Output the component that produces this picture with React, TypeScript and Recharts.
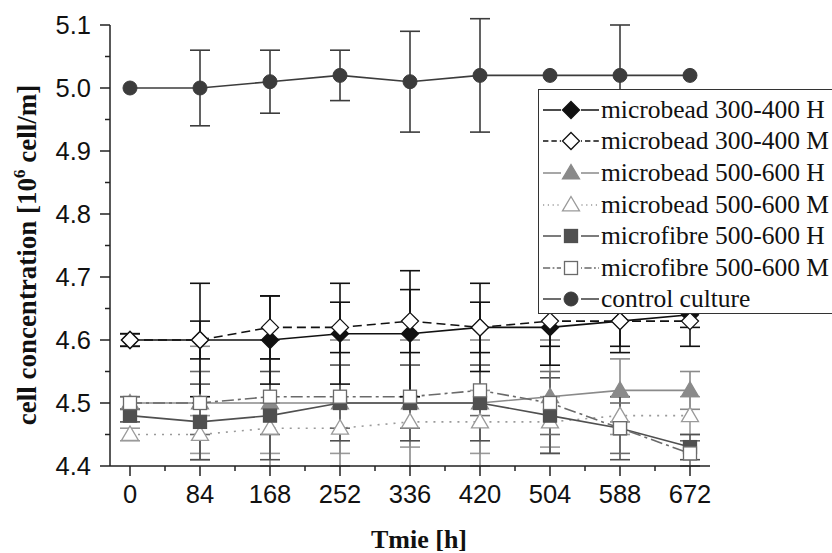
import React from 'react';
import { LineChart, Line, XAxis, YAxis, ErrorBar, Legend, Label } from 'recharts';

// time points [h]
const hours = [0, 84, 168, 252, 336, 420, 504, 588, 672];

// cell concentration [10^6 cell/ml] and error bars
const bead34H = [4.60, 4.60, 4.60, 4.61, 4.61, 4.62, 4.62, 4.63, 4.64];
const bead34HErr = [0.01, 0.03, 0.07, 0.08, 0.1, 0.07, 0.06, 0.05, 0.02];
const bead34M = [4.60, 4.60, 4.62, 4.62, 4.63, 4.62, 4.63, 4.63, 4.63];
const bead34MErr = [0.01, 0.09, 0.05, 0.04, 0.05, 0.04, 0.04, 0.04, 0.04];
const bead56H = [4.50, 4.50, 4.50, 4.50, 4.50, 4.50, 4.51, 4.52, 4.52];
const bead56HErr = [0.01, 0.09, 0.1, 0.1, 0.1, 0.1, 0.09, 0.05, 0.03];
const bead56M = [4.45, 4.45, 4.46, 4.46, 4.47, 4.47, 4.47, 4.48, 4.48];
const bead56MErr = [0.01, 0.03, 0.04, 0.04, 0.04, 0.05, 0.04, 0.03, 0.03];
const fibreH = [4.48, 4.47, 4.48, 4.50, 4.50, 4.50, 4.48, 4.46, 4.43];
const fibreHErr = [0.01, 0.06, 0.07, 0.06, 0.06, 0.06, 0.06, 0.05, 0.02];
const fibreM = [4.50, 4.50, 4.51, 4.51, 4.51, 4.52, 4.50, 4.46, 4.42];
const fibreMErr = [0.01, 0.05, 0.06, 0.05, 0.05, 0.04, 0.05, 0.04, 0.02];
const control = [5.00, 5.00, 5.01, 5.02, 5.01, 5.02, 5.02, 5.02, 5.02];
const controlErr = [0, 0.06, 0.05, 0.04, 0.08, 0.09, 0, 0.08, 0];

const xTicks = [0, 42, 84, 126, 168, 210, 252, 294, 336, 378, 420, 462, 504, 546, 588, 630, 672];
const xLabels = [0, 84, 168, 252, 336, 420, 504, 588, 672];
const yTicks = [4.4, 4.45, 4.5, 4.55, 4.6, 4.65, 4.7, 4.75, 4.8, 4.85, 4.9, 4.95, 5.0, 5.05, 5.1];

const data = hours.map((t, i) => ({
  t,
  b34H: bead34H[i], b34HE: bead34HErr[i],
  b34M: bead34M[i], b34ME: bead34MErr[i],
  b56H: bead56H[i], b56HE: bead56HErr[i],
  b56M: bead56M[i], b56ME: bead56MErr[i],
  fH: fibreH[i], fHE: fibreHErr[i],
  fM: fibreM[i], fME: fibreMErr[i],
  ctl: control[i], ctlE: controlErr[i],
}));

const SERIF = "'Liberation Serif', 'Times New Roman', serif";
const SANS = "'Liberation Sans', Arial, sans-serif";

type Shape = 'diamond' | 'triangle' | 'square' | 'circle';

const marker = (shape: Shape, cx: number, cy: number, fill: string, stroke: string, key?: string) => {
  if (shape === 'diamond') {
    const r = 8.5;
    return <path key={key} d={`M${cx},${cy - r}L${cx + r},${cy}L${cx},${cy + r}L${cx - r},${cy}Z`} fill={fill} stroke={stroke} strokeWidth={1.3} />;
  }
  if (shape === 'triangle') {
    const r = 8.5;
    return <path key={key} d={`M${cx},${cy - r}L${cx + r},${cy + r * 0.7}L${cx - r},${cy + r * 0.7}Z`} fill={fill} stroke={stroke} strokeWidth={1.3} />;
  }
  if (shape === 'square') {
    const r = 6.5;
    return <rect key={key} x={cx - r} y={cy - r} width={2 * r} height={2 * r} fill={fill} stroke={stroke} strokeWidth={1.3} />;
  }
  return <circle key={key} cx={cx} cy={cy} r={7} fill={fill} stroke={stroke} strokeWidth={1} />;
};

const series = [
  { key: 'b56M', err: 'b56ME', name: 'microbead 500-600 M', color: '#9a9a9a', dash: '2 6', shape: 'triangle' as Shape, fill: '#fff' },
  { key: 'b56H', err: 'b56HE', name: 'microbead 500-600 H', color: '#8a8a8a', dash: undefined, shape: 'triangle' as Shape, fill: '#8a8a8a' },
  { key: 'fH', err: 'fHE', name: 'microfibre 500-600 H', color: '#505050', dash: undefined, shape: 'square' as Shape, fill: '#505050' },
  { key: 'fM', err: 'fME', name: 'microfibre 500-600 M', color: '#6a6a6a', dash: '12 4 3 4', shape: 'square' as Shape, fill: '#fff' },
  { key: 'b34H', err: 'b34HE', name: 'microbead 300-400 H', color: '#111', dash: undefined, shape: 'diamond' as Shape, fill: '#111' },
  { key: 'b34M', err: 'b34ME', name: 'microbead 300-400 M', color: '#111', dash: '9 5', shape: 'diamond' as Shape, fill: '#fff' },
  { key: 'ctl', err: 'ctlE', name: 'control culture', color: '#3c3c3c', dash: undefined, shape: 'circle' as Shape, fill: '#3c3c3c' },
];

const legendOrder = ['b34H', 'b34M', 'b56H', 'b56M', 'fH', 'fM', 'ctl'];

const YTick = (props: any) => {
  const { x, y, payload } = props;
  const v = payload.value;
  const major = Math.abs(v * 10 - Math.round(v * 10)) < 1e-6;
  return (
    <g>
      <line x1={x} x2={x - (major ? 10 : 5)} y1={y} y2={y} stroke="#222" strokeWidth={1.5} />
      {major && (
        <text x={x - 19} y={y + 9} textAnchor="end" fontFamily={SANS} fontSize={25.5} fill="#111">
          {v.toFixed(1)}
        </text>
      )}
    </g>
  );
};

const XTick = (props: any) => {
  const { x, y, payload } = props;
  const v = payload.value;
  const major = xLabels.includes(v);
  return (
    <g>
      <line x1={x} x2={x} y1={y} y2={y + (major ? 10 : 5)} stroke="#222" strokeWidth={1.5} />
      {major && (
        <text x={x} y={y + 37} textAnchor="middle" fontFamily={SANS} fontSize={25.5} fill="#111">
          {v}
        </text>
      )}
    </g>
  );
};

const LegendBox = () => (
  <div style={{ background: '#fff', border: '1.5px solid #333', padding: '4px 0 4px 2px', boxSizing: 'border-box', width: 300, height: 225 }}>
    {legendOrder.map((k) => {
      const s = series.find((d) => d.key === k)!;
      return (
        <div key={k} style={{ display: 'flex', alignItems: 'center', height: 31.6 }}>
          <svg width={60} height={20} style={{ flex: 'none' }}>
            <line x1={2} x2={58} y1={10} y2={10} stroke={s.color} strokeWidth={1.5} strokeDasharray={s.dash ? s.dash.split(' ').map((n) => Number(n) * 0.6).join(' ') : undefined} />
            <rect x={20} y={1} width={20} height={18} fill="#fff" />
            {marker(s.shape, 30, 10, s.fill, s.color)}
          </svg>
          <span style={{ fontFamily: SERIF, fontSize: 25.5, lineHeight: '28px', color: '#111', whiteSpace: 'nowrap' }}>{s.name}</span>
        </div>
      );
    })}
  </div>
);

export default function App() {
  return (
    <div style={{ position: 'absolute', left: 0, top: 0, width: 832, height: 553, background: '#fff', overflow: 'hidden' }}>
      <LineChart width={832} height={553} data={data} margin={{ top: 25, right: 122, bottom: 47, left: 50 }}>
        <XAxis
          dataKey="t"
          type="number"
          domain={[-24, 696]}
          ticks={xTicks}
          interval={0}
          height={40}
          tickSize={0}
          tickMargin={0}
          tickLine={false}
          tick={<XTick />}
          axisLine={{ stroke: '#222', strokeWidth: 1.5 }}
        >
          <Label
            content={() => (
              <text x={419} y={548} textAnchor="middle" fontFamily={SERIF} fontWeight="bold" fontSize={26} fill="#111">
                Tmie [h]
              </text>
            )}
          />
        </XAxis>
        <YAxis
          type="number"
          domain={[4.4, 5.1]}
          allowDataOverflow
          ticks={yTicks}
          interval={0}
          width={60}
          tickSize={0}
          tickMargin={0}
          tickLine={false}
          tick={<YTick />}
          axisLine={{ stroke: '#222', strokeWidth: 1.5 }}
        >
          <Label
            content={() => (
              <text transform="translate(36,255) rotate(-90)" textAnchor="middle" fontFamily={SERIF} fontWeight="bold" fontSize={27} fill="#111">
                cell concentration [10
                <tspan dy={-11} fontSize={17}>6</tspan>
                <tspan dy={11}> cell/m]</tspan>
              </text>
            )}
          />
        </YAxis>
        {series.map((s) => (
          <Line
            key={s.key}
            dataKey={s.key}
            name={s.name}
            stroke={s.color}
            strokeWidth={1.6}
            strokeDasharray={s.dash}
            isAnimationActive={false}
            dot={(p: any) => marker(s.shape, p.cx, p.cy, s.fill, s.color, `${s.key}-${p.index}`)}
            activeDot={false}
          >
            <ErrorBar dataKey={s.err} width={10} stroke={s.color} strokeWidth={1.6} direction="y" />
          </Line>
        ))}
        <Legend
          layout="vertical"
          align="center"
          verticalAlign="middle"
          content={() => <LegendBox />}
          wrapperStyle={{ position: 'absolute', left: 538, top: 89, width: 300, height: 225 }}
        />
      </LineChart>
    </div>
  );
}
